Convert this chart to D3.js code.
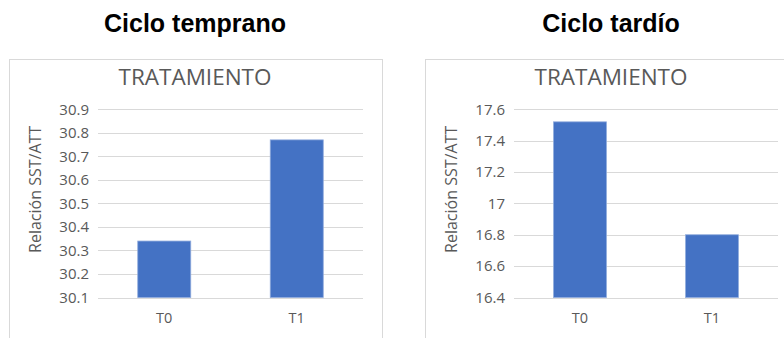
<!DOCTYPE html>
<html>
<head>
<meta charset="utf-8">
<script src="https://cdn.jsdelivr.net/npm/d3@7"></script>
<style>
  html, body { margin: 0; padding: 0; background: #ffffff; }
  svg { display: block; }
</style>
</head>
<body>
<svg id="chart" width="784" height="338"></svg>
<script>
// Treatment categories shared by both panels
const categories = ["T0", "T1"];

// Relación SST/ATT per treatment
const earlyValues = [30.34, 30.77];
const lateValues = [17.52, 16.80];

// Y-axis tick labels per panel
const earlyTicks = [30.1, 30.2, 30.3, 30.4, 30.5, 30.6, 30.7, 30.8, 30.9];
const lateTicks = [16.4, 16.6, 16.8, 17.0, 17.2, 17.4, 17.6];

const panelTitles = ["Ciclo temprano", "Ciclo tardío"];
const chartTitle = "TRATAMIENTO";
const yAxisTitle = "Relación SST/ATT";

const svg = d3.select("#chart");
const textFont = "'Open Sans', 'Noto Sans', sans-serif";
const grey = "#595959";

const panels = [
  { title: panelTitles[0], values: earlyValues, ticks: earlyTicks,
    fmt: d3.format(".1f"), boxX: 9.5, plotX0: 98, plotX1: 363 },
  { title: panelTitles[1], values: lateValues, ticks: lateTicks,
    fmt: d => (Math.round(d * 10) % 10 === 0 ? d3.format(".0f")(d) : d3.format(".1f")(d)),
    boxX: 425.5, plotX0: 514, plotX1: 778 }
];

const boxW = 373;
const boxY = 59.5;
const plotTop = 109.3;
const plotBottom = 297.5;

panels.forEach(p => {
  const g = svg.append("g");
  const boxCenter = p.boxX + boxW / 2;

  // Heading above each chart
  g.append("text")
    .attr("x", boxCenter - 1)
    .attr("y", 32)
    .attr("text-anchor", "middle")
    .attr("font-family", "'Liberation Sans', Arial, sans-serif")
    .attr("font-weight", "bold")
    .attr("font-size", 25)
    .attr("fill", "#000000")
    .text(p.title);

  // Chart area frame
  g.append("rect")
    .attr("x", p.boxX)
    .attr("y", boxY)
    .attr("width", boxW)
    .attr("height", 300)
    .attr("fill", "#ffffff")
    .attr("stroke", "#d9d9d9")
    .attr("stroke-width", 1);

  // Chart title
  g.append("text")
    .attr("x", boxCenter - 1)
    .attr("y", 84.5)
    .attr("text-anchor", "middle")
    .attr("font-family", textFont)
    .attr("font-size", 22.5)
    .attr("fill", grey)
    .text(chartTitle);

  const x = d3.scaleBand()
    .domain(categories)
    .range([p.plotX0, p.plotX1])
    .paddingInner(0.6)
    .paddingOuter(0.3);

  const y = d3.scaleLinear()
    .domain([p.ticks[0], p.ticks[p.ticks.length - 1]])
    .range([plotBottom, plotTop]);

  // Horizontal gridlines
  g.append("g")
    .selectAll("line")
    .data(p.ticks)
    .join("line")
    .attr("x1", p.plotX0)
    .attr("x2", p.plotX1)
    .attr("y1", d => Math.round(y(d)) + 0.5)
    .attr("y2", d => Math.round(y(d)) + 0.5)
    .attr("stroke", "#d9d9d9")
    .attr("stroke-width", 1.2);

  // Y-axis tick labels
  const yAxis = d3.axisLeft(y)
    .tickValues(p.ticks)
    .tickFormat(p.fmt)
    .tickSize(0)
    .tickPadding(9);
  const ya = g.append("g")
    .attr("transform", `translate(${p.plotX0},0)`)
    .call(yAxis);
  ya.select(".domain").remove();
  ya.selectAll("text")
    .attr("font-family", textFont)
    .attr("font-size", 15)
    .attr("fill", grey);

  // Bars
  g.append("g")
    .selectAll("rect")
    .data(p.values)
    .join("rect")
    .attr("x", (d, i) => x(categories[i]))
    .attr("width", x.bandwidth())
    .attr("y", d => y(d))
    .attr("height", d => y(p.ticks[0]) - y(d))
    .attr("fill", "#4472C4")
    .attr("stroke", "#8eaadc")
    .attr("stroke-width", 0.8);

  // Category labels
  const xAxis = d3.axisBottom(x).tickSize(0).tickPadding(15);
  const xa = g.append("g")
    .attr("transform", `translate(0,${plotBottom})`)
    .call(xAxis);
  xa.select(".domain").remove();
  xa.selectAll("text")
    .attr("font-family", textFont)
    .attr("font-size", 14.5)
    .attr("fill", grey);

  // Y-axis title
  g.append("text")
    .attr("transform", `translate(${p.boxX + 31},${(plotTop + plotBottom) / 2 - 14}) rotate(-90)`)
    .attr("text-anchor", "middle")
    .attr("font-family", textFont)
    .attr("font-size", 16)
    .attr("fill", grey)
    .text(yAxisTitle);
});
</script>
</body>
</html>
